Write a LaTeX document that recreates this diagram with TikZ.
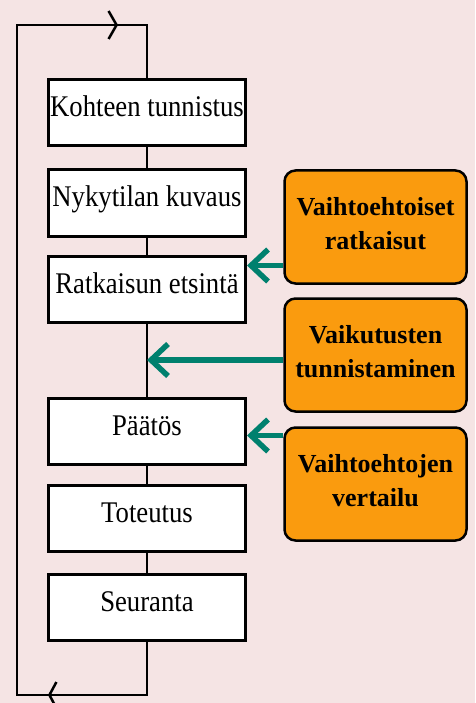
\documentclass[tikz,border=0pt]{standalone}
\usepackage{fontspec}
\setmainfont{Liberation Serif}
\newfontfamily\stepfont[FakeStretch=0.89]{Liberation Serif}
\usetikzlibrary{arrows.meta,calc}

\definecolor{bgPink}{HTML}{F5E4E4}
\definecolor{altOrange}{HTML}{FA9B0E}
\definecolor{fbTeal}{HTML}{00806E}

\begin{document}
\begin{tikzpicture}
  [x=1pt,y=1pt,
   line width=3pt,
   stepBox/.style={draw,fill=white,minimum width=197pt,minimum height=66pt,inner sep=1pt,
                   text height=22pt,text depth=14pt,
                   font=\stepfont\fontsize{30}{34}\selectfont},
   altBox/.style={draw,fill=altOrange,rounded corners=11pt,minimum width=182pt,minimum height=113pt,
                  align=center,line width=2.5pt,text depth=8pt,
                  font=\fontsize{26}{34}\selectfont\bfseries},
   flowLine/.style={draw,line width=2.5pt},
   loopTip/.style={-{Straight Barb[length=8pt,width=28pt]}},
   fbArrow/.style={draw=fbTeal,line width=5.5pt,-{Straight Barb[length=17pt,width=32pt]}},
  ]

 \fill[bgPink] (0,0) rectangle (475,-703);
 \useasboundingbox (0,0) rectangle (475,-703);

 % process steps
 \node[stepBox] (target)  at (147,-113)   {Kohteen tunnistus};
 \node[stepBox] (current) at (147,-203)   {Nykytilan kuvaus};
 \node[stepBox] (search)  at (147,-289)   {Ratkaisun etsintä};
 \node[stepBox] (decide)  at (147,-431)   {Päätös};
 \node[stepBox] (execute) at (147,-518.5) {Toteutus};
 \node[stepBox] (follow)  at (147,-607)   {Seuranta};

 % supporting tasks
 \node[altBox] (altSol)  at (375.5,-227) {Vaihtoehtoiset\\ratkaisut};
 \node[altBox] (impact)  at (375.5,-355) {Vaikutusten\\tunnistaminen};
 \node[altBox] (compare) at (375.5,-484) {Vaihtoehtojen\\vertailu};

 \draw[flowLine] (target) -- (current);
 \draw[flowLine] (current) -- (search);
 \draw[flowLine] (search) -- (decide);
 \draw[flowLine] (decide) -- (execute);
 \draw[flowLine] (execute) -- (follow);

 % feedback loop
 \coordinate (loopBL) at (17,-695);
 \coordinate (loopTL) at (17,-25);
 \coordinate (tipTop) at (118,-25);
 \coordinate (tipBot) at (48,-695);
 \draw[flowLine] (follow.south) |- (loopBL) -- (loopTL) -| (target.north);
 \draw[flowLine,loopTip] (loopTL) -- (tipTop);
 \draw[flowLine,-{Straight Barb[length=7pt,width=26pt]}] (follow.south |- loopBL) -- (tipBot);

 % inputs
 \coordinate (hitSearch) at ($(search.north east)+(0,-11)$);
 \coordinate (hitLink)   at ($(search.south)!0.5!(decide.north)$);
 \coordinate (hitDecide) at ($(decide.north east)+(0,-39)$);
 \draw[fbArrow] (altSol.west |- hitSearch) -- (hitSearch);
 \draw[fbArrow] (impact.west |- hitLink) -- (hitLink);
 \draw[fbArrow] (compare.west |- hitDecide) -- (hitDecide);
\end{tikzpicture}
\end{document}
